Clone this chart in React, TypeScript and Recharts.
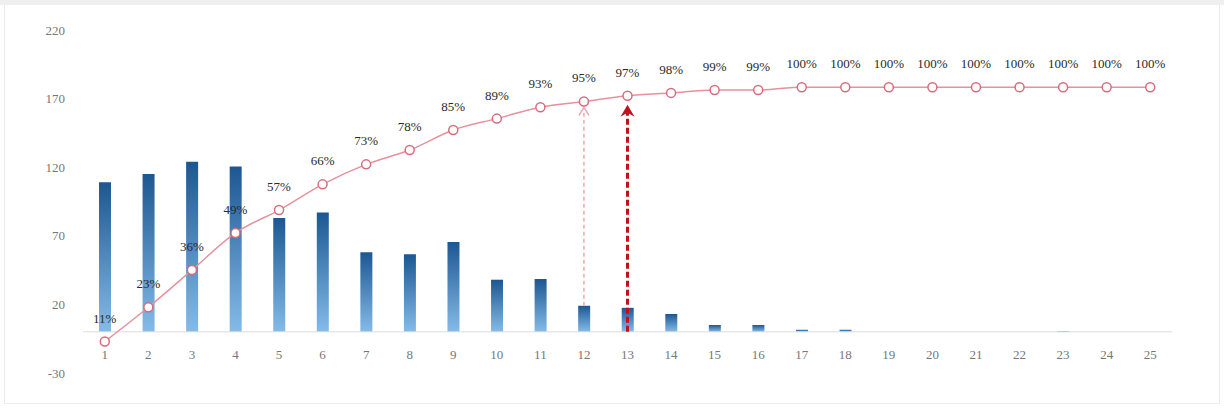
import React from "react";
import {
  ComposedChart,
  Bar,
  Line,
  XAxis,
  YAxis,
  LabelList,
  ReferenceLine,
} from "recharts";

const categories = [
  1, 2, 3, 4, 5, 6, 7, 8, 9, 10, 11, 12, 13, 14, 15, 16, 17, 18, 19, 20, 21, 22, 23, 24, 25,
];
const counts = [
  109, 115, 124, 120.5, 83, 87, 58, 56.5, 65.5, 38, 38.5, 19, 17.5, 13, 5, 5, 1.5, 1.5, 0, 0, 0, 0, 0.5, 0, 0,
];
const cumulative = [
  0.11, 0.23, 0.36, 0.49, 0.57, 0.66, 0.73, 0.78, 0.85, 0.89, 0.93, 0.95, 0.97, 0.98, 0.99, 0.99, 1, 1, 1, 1,
  1, 1, 1, 1, 1,
];
const leftTicks = [-30, 20, 70, 120, 170, 220];

const LEFT_MIN = -30;
const LEFT_MAX = 220;
const RIGHT_MAX = 1.2;

// map a value of the left axis onto the hidden right (percent) axis
const toRight = (v: number) => ((v - LEFT_MIN) / (LEFT_MAX - LEFT_MIN)) * RIGHT_MAX;

const data = categories.map((c, i) => ({ cat: c, count: counts[i], pct: cumulative[i] }));

const FONT = "'Liberation Serif', serif";

const XTick = (props: any) => {
  const { x, y, payload } = props;
  return (
    <text x={x} y={y - 19} dy="0.35em" textAnchor="middle" fill="#777777" fontSize={13} fontFamily={FONT}>
      {payload.value}
    </text>
  );
};

const DarkArrow = (p: any) => {
  const x = p.x1;
  const bottom = Math.max(p.y1, p.y2);
  const tip = Math.min(p.y1, p.y2) + 9;
  return (
    <g>
      <line x1={x} y1={bottom} x2={x} y2={tip + 8} stroke="#c3101e" strokeWidth={3} strokeDasharray="6 3" />
      <path
        d={`M${x - 7},${tip + 12} L${x},${tip} L${x + 7},${tip + 12} L${x},${tip + 8} Z`}
        fill="#c3101e"
      />
    </g>
  );
};

const LightArrow = (p: any) => {
  const x = p.x1;
  const bottom = Math.max(p.y1, p.y2);
  const tip = Math.min(p.y1, p.y2) + 6;
  return (
    <g>
      <line x1={x} y1={bottom} x2={x} y2={tip + 2} stroke="#f2a5ae" strokeWidth={1.5} strokeDasharray="4 3" />
      <path
        d={`M${x - 5},${tip + 8} L${x},${tip} L${x + 5},${tip + 8}`}
        fill="none"
        stroke="#f2a5ae"
        strokeWidth={1.5}
      />
    </g>
  );
};

export default function App() {
  return (
    <div
      style={{
        position: "absolute",
        left: 0,
        top: 0,
        width: 1224,
        height: 411,
        background: "#ffffff",
        overflow: "hidden",
      }}
    >
      <div style={{ position: "absolute", left: 0, top: 0, width: 1224, height: 5, background: "#efefef" }} />
      <div
        style={{
          position: "absolute",
          left: 4,
          top: 5,
          width: 1214,
          height: 398,
          border: "1px solid #ececec",
          borderTop: "none",
        }}
      />
      <div style={{ position: "absolute", left: 0, top: 0 }}>
        <ComposedChart
          width={1224}
          height={411}
          data={data}
          margin={{ top: 30, right: 52, bottom: 0, left: 23 }}
        >
          <defs>
            <linearGradient id="barFill" x1="0" y1="0" x2="0" y2="1">
              <stop offset="0%" stopColor="#1c5792" />
              <stop offset="100%" stopColor="#84bbe9" />
            </linearGradient>
          </defs>
          <XAxis
            dataKey="cat"
            type="category"
            axisLine={false}
            tickLine={false}
            tickSize={0}
            tickMargin={0}
            height={38}
            interval={0}
            tick={<XTick />}
          />
          <YAxis
            yAxisId="left"
            domain={[LEFT_MIN, LEFT_MAX]}
            ticks={leftTicks}
            axisLine={false}
            tickLine={false}
            tickMargin={12}
            width={60}
            tick={{ fill: "#777777", fontSize: 13, fontFamily: FONT }}
          />
          <YAxis yAxisId="right" orientation="right" domain={[0, RIGHT_MAX]} hide />
          <ReferenceLine yAxisId="left" y={0} stroke="#dcdcdc" strokeWidth={1} />
          <Bar yAxisId="left" dataKey="count" barSize={12} fill="url(#barFill)" isAnimationActive={false} />
          <ReferenceLine
            yAxisId="right"
            segment={[
              { x: 12, y: toRight(counts[11]) },
              { x: 12, y: cumulative[11] },
            ]}
            shape={<LightArrow />}
          />
          <ReferenceLine
            yAxisId="right"
            segment={[
              { x: 13, y: toRight(0) },
              { x: 13, y: cumulative[12] },
            ]}
            shape={<DarkArrow />}
          />
          <Line
            yAxisId="right"
            type="monotone"
            dataKey="pct"
            stroke="#e6919d"
            strokeWidth={1.5}
            dot={{ r: 4.5, fill: "#ffffff", stroke: "#d86c7c", strokeWidth: 1.5 }}
            isAnimationActive={false}
          >
            <LabelList
              dataKey="pct"
              position="top"
              offset={19}
              formatter={(v: any) => `${Math.round(Number(v) * 100)}%`}
              fill="#2a2a2a"
              fontSize={13}
              fontFamily={FONT}
            />
          </Line>
        </ComposedChart>
      </div>
    </div>
  );
}
